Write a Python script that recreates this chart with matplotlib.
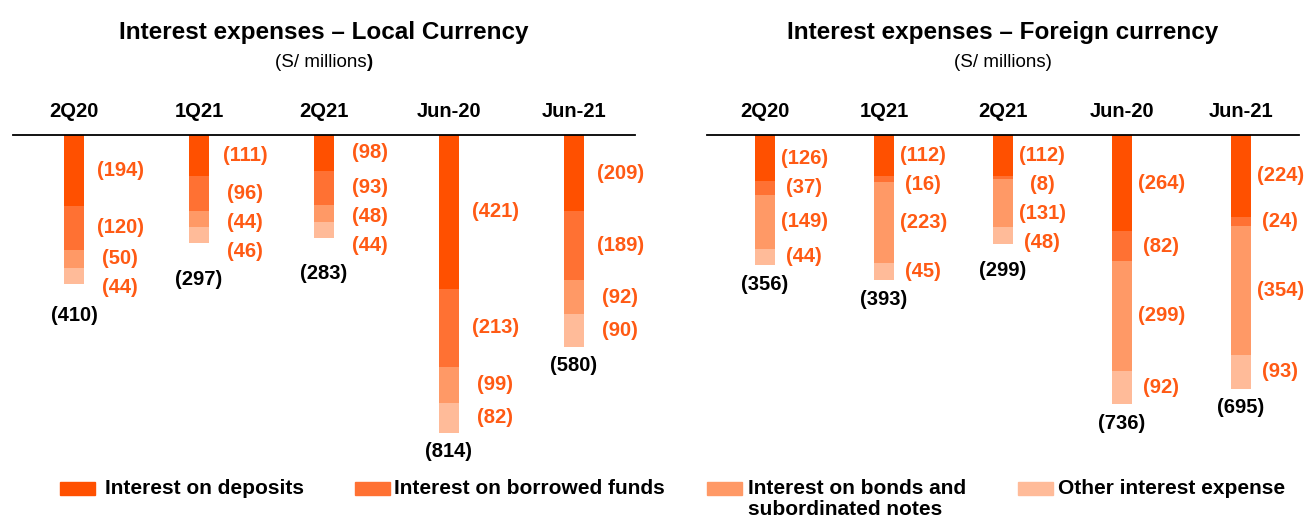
import matplotlib.pyplot as plt
from matplotlib.patches import Rectangle
import numpy as np

plt.rcParams['font.family'] = ['Liberation Sans', 'DejaVu Sans']

# 数据
categories = ['2Q20', '1Q21', '2Q21', 'Jun-20', 'Jun-21']
series_names = ['Interest on deposits', 'Interest on borrowed funds',
                'Interest on bonds and\nsubordinated notes', 'Other interest expense']
local_deposits = [194, 111, 98, 421, 209]
local_borrowed = [120, 96, 93, 213, 189]
local_bonds = [50, 44, 48, 99, 92]
local_other = [44, 46, 44, 82, 90]
local_total = [410, 297, 283, 814, 580]

foreign_deposits = [126, 112, 112, 264, 224]
foreign_borrowed = [37, 16, 8, 82, 24]
foreign_bonds = [149, 223, 131, 299, 354]
foreign_other = [44, 45, 48, 92, 93]
foreign_total = [356, 393, 299, 736, 695]

colors = ['#FF5000', '#FF7133', '#FF9966', '#FFBB99']
label_color = '#FF5A14'

fig = plt.figure(figsize=(13.11, 5.23), dpi=100)
W, H = 1311, 523
PX = 890 / 325  # 每像素对应的数值


def panel(x0, x1, title, bold_paren, series, totals, dx):
    ax = fig.add_axes([x0 / W, (H - 460) / H, (x1 - x0) / W, 325 / H])
    x = np.arange(len(categories))
    bottom = np.zeros(len(categories))
    label_y = []
    for vals, c in zip(series, colors):
        v = np.array(vals, dtype=float)
        ax.bar(x, -v, bottom=-bottom, width=0.165, color=c, linewidth=0)
        label_y.append(bottom + v / 2)
        bottom = bottom + v
    # 标签位置：段中心，避免重叠
    gap = 29 * PX
    for j in range(len(categories)):
        prev = -1e9
        for i, vals in enumerate(series):
            yy = max(label_y[i][j], prev + gap)
            prev = yy
            ax.text(x[j] + dx, -yy, '({})'.format(vals[j]), ha='center', va='center',
                    color=label_color, fontsize=14.5, fontweight='bold')
        ty = max(bottom[j] + 19 * PX, prev + 28 * PX)
        ax.text(x[j], -ty, '({})'.format(totals[j]), ha='center', va='center',
                fontsize=14.5, fontweight='bold', color='black')
    ax.set_xlim(-0.488, 4.488)
    ax.set_ylim(-890, 0)
    ax.set_xticks(x, categories)
    ax.xaxis.tick_top()
    ax.tick_params(axis='x', length=0, pad=10, labelsize=14.5)
    for t in ax.get_xticklabels():
        t.set_fontweight('bold')
    ax.set_yticks([])
    for s in ['left', 'right', 'bottom']:
        ax.spines[s].set_visible(False)
    ax.spines['top'].set_linewidth(1.3)
    cx = (x0 + x1) / 2
    fig.text(cx / W, 1 - 32 / H, title, ha='center', va='center', fontsize=17.5, fontweight='bold')
    if bold_paren:
        t = fig.text(cx / W - 3 / W, 1 - 62 / H, '(S/ millions', ha='center', va='center', fontsize=13.5)
        ax.annotate(')', xy=(1, 0.5), xycoords=t, ha='left', va='center',
                    fontsize=13.5, fontweight='bold')
    else:
        fig.text(cx / W, 1 - 62 / H, '(S/ millions)', ha='center', va='center', fontsize=13.5)


panel(13, 635, 'Interest expenses – Local Currency', True,
      [local_deposits, local_borrowed, local_bonds, local_other], local_total, 0.37)
panel(707, 1299, 'Interest expenses – Foreign currency', False,
      [foreign_deposits, foreign_borrowed, foreign_bonds, foreign_other], foreign_total, 0.33)

# 图例
patch_x = [60, 355, 707, 1018]
text_x = [105, 394, 748, 1058]
for px, tx, name, c in zip(patch_x, text_x, series_names, colors):
    fig.add_artist(Rectangle((px / W, 1 - 495 / H), 35 / W, 13 / H, color=c,
                             transform=fig.transFigure))
    fig.text(tx / W, 1 - 479 / H, name, ha='left', va='top', fontsize=15,
             fontweight='bold', linespacing=1.15)

fig.savefig('out.png', dpi=100)
